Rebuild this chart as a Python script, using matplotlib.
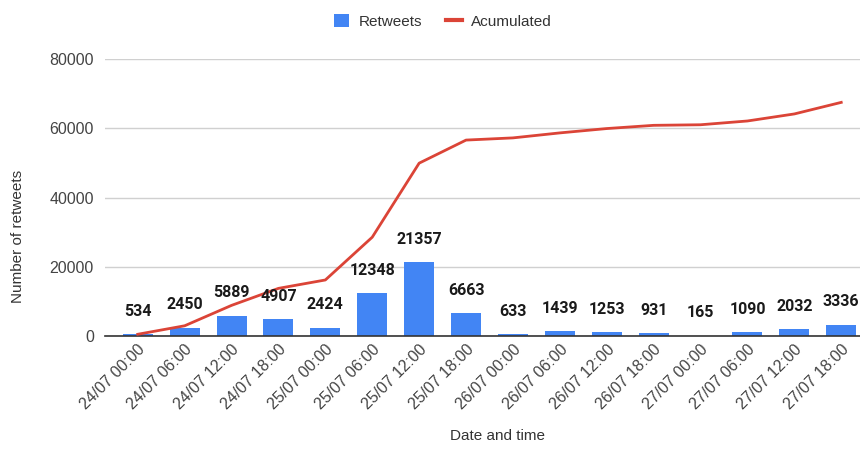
import matplotlib.pyplot as plt
from matplotlib.lines import Line2D
from matplotlib.patches import Patch

labels = ['24/07 00:00', '24/07 06:00', '24/07 12:00', '24/07 18:00',
          '25/07 00:00', '25/07 06:00', '25/07 12:00', '25/07 18:00',
          '26/07 00:00', '26/07 06:00', '26/07 12:00', '26/07 18:00',
          '27/07 00:00', '27/07 06:00', '27/07 12:00', '27/07 18:00']
retweets = [534, 2450, 5889, 4907, 2424, 12348, 21357, 6663,
            633, 1439, 1253, 931, 165, 1090, 2032, 3336]
accumulated = [534, 2984, 8873, 13780, 16204, 28552, 49909, 56572,
               57205, 58644, 59897, 60828, 60993, 62083, 64115, 67451]

blue = '#4285F4'
red = '#DB4437'
plt.rcParams['font.family'] = ['Arial', 'Liberation Sans', 'DejaVu Sans']

fig = plt.figure(figsize=(8.6, 4.53), dpi=100)
ax = fig.add_axes([0.122, 0.258, 0.878, 0.612])

x = list(range(len(labels)))
ax.bar(x, retweets, width=0.64, color=blue, zorder=2)
ax.plot(x, accumulated, color=red, lw=2, zorder=3)

# value labels above each bar
for xi, v in zip(x, retweets):
    ax.annotate(str(v), (xi, v), xytext=(0, 11), textcoords='offset points',
                ha='center', va='bottom', fontsize=11.5, fontweight='bold',
                family=['Roboto', 'DejaVu Sans'], color='#1a1a1a', zorder=4)

ax.set_xlim(-0.7, 15.4)
ax.set_ylim(0, 80000)
ax.set_yticks([0, 20000, 40000, 60000, 80000])
ax.yaxis.grid(True, color='#d0d0d0', lw=1)
ax.set_axisbelow(True)
for s in ['top', 'right', 'left']:
    ax.spines[s].set_visible(False)
ax.spines['bottom'].set_color('#333333')
ax.spines['bottom'].set_linewidth(1.2)
ax.tick_params(axis='both', length=0, labelsize=11.5, labelcolor='#444444')
ax.tick_params(axis='y', pad=8)
ax.tick_params(axis='x', pad=4)
ax.set_xticks(x)
ax.set_xticklabels(labels, rotation=45, ha='right', rotation_mode='anchor')

ax.set_xlabel('Date and time', fontsize=11, color='#333333')
ax.xaxis.set_label_coords(0.52, -0.335)
ax.set_ylabel('Number of retweets', fontsize=11, color='#333333')
ax.yaxis.set_label_coords(-0.106, 0.36)

handles = [Patch(facecolor=blue, edgecolor='none'),
           Line2D([0], [0], color=red, lw=3)]
fig.legend(handles, ['Retweets', 'Acumulated'], loc='center',
           bbox_to_anchor=(0.515, 0.953), ncol=2, frameon=False,
           fontsize=11, handlelength=1.0, handleheight=1.0,
           columnspacing=1.6, handletextpad=0.6, labelcolor='#333333')

fig.savefig('out.png', dpi=100)
